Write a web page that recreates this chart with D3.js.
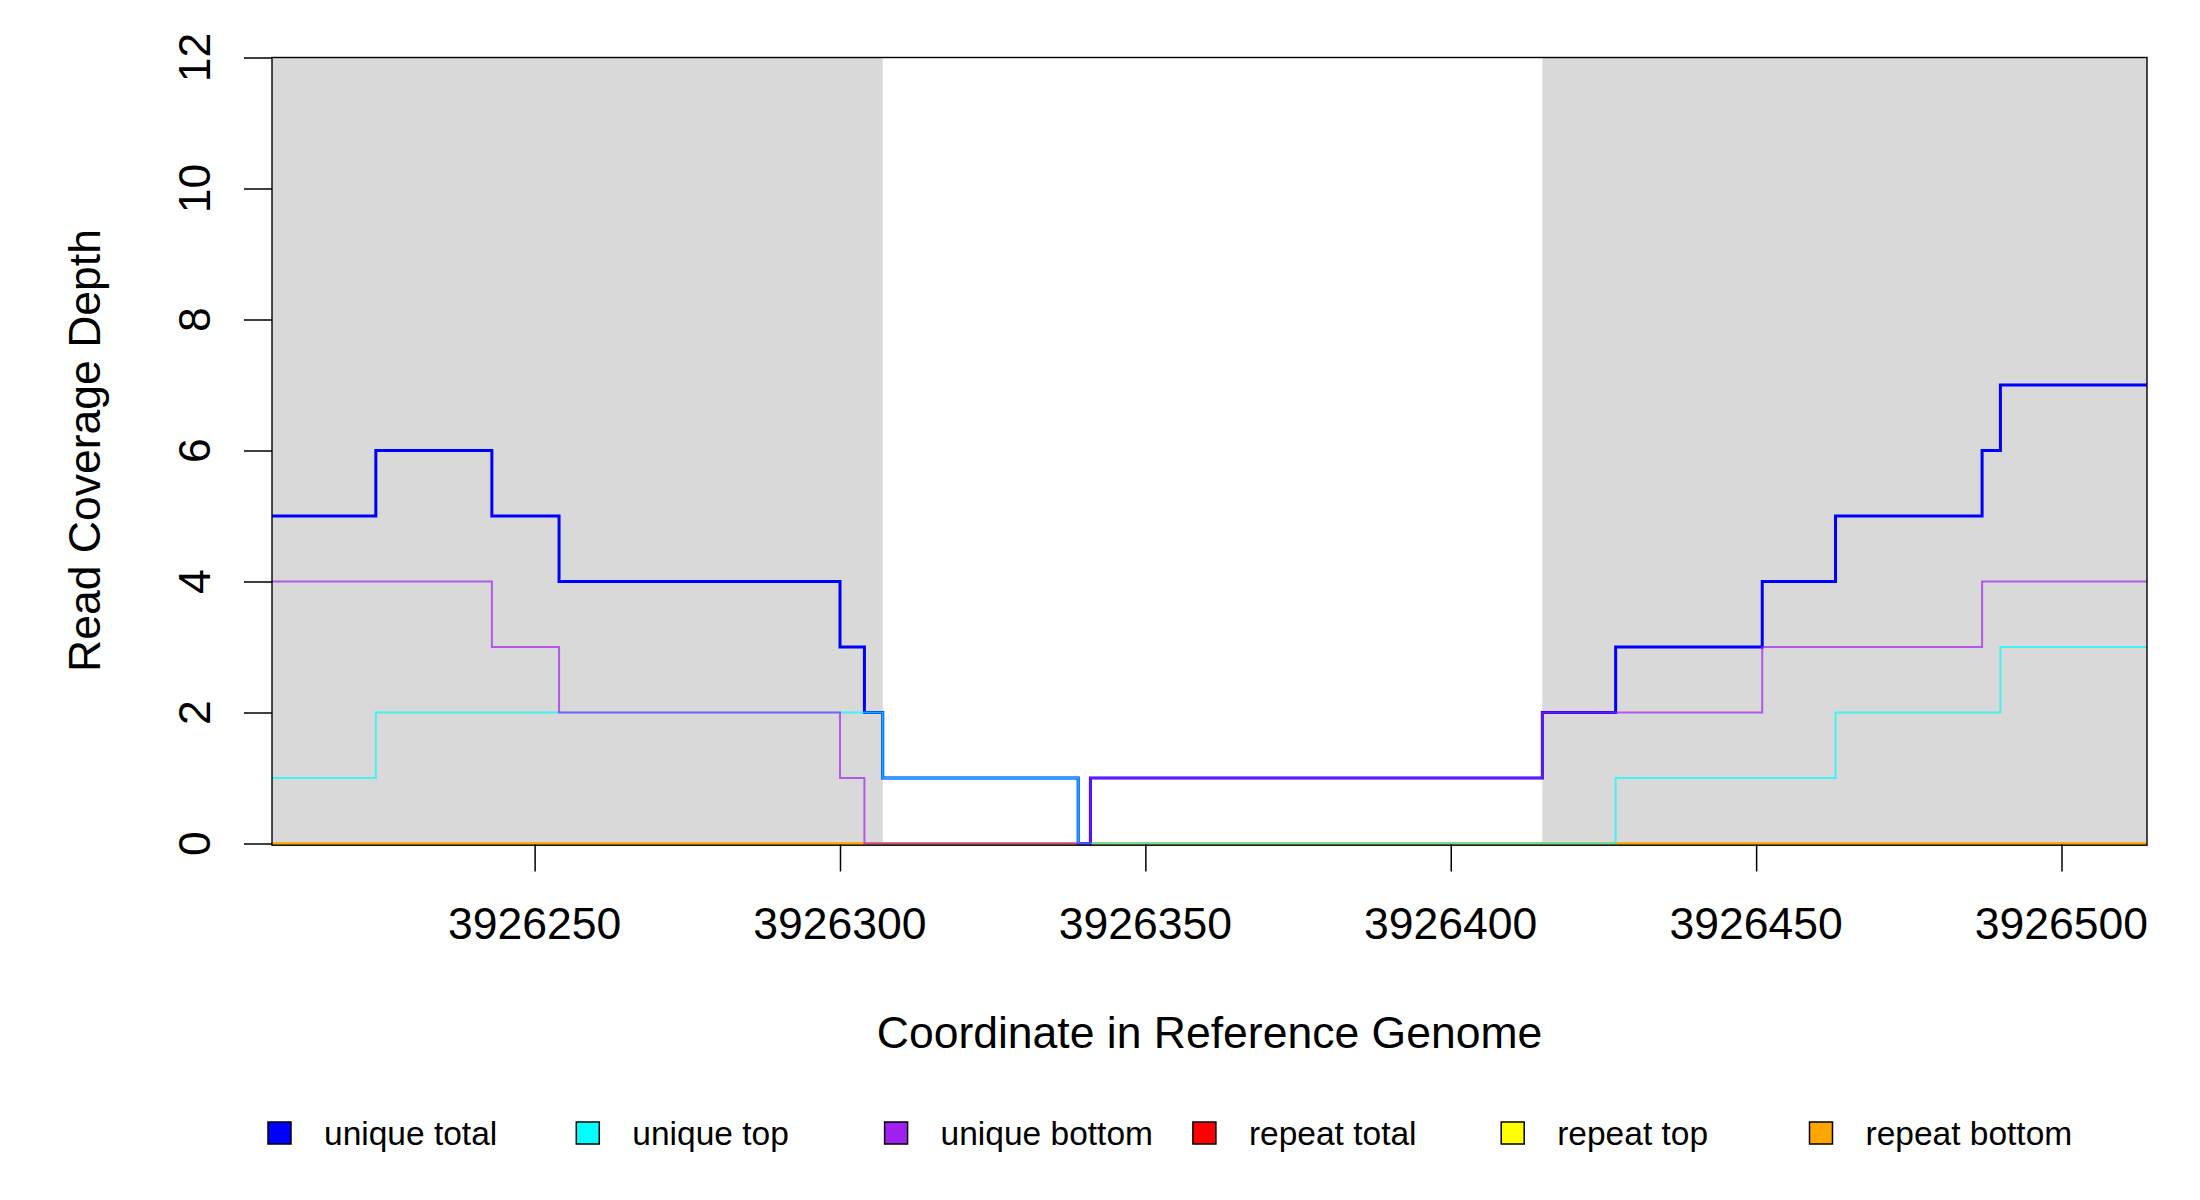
<!DOCTYPE html>
<html>
<head>
<meta charset="utf-8">
<script src="https://cdn.jsdelivr.net/npm/d3@7"></script>
<style>
  html, body { margin: 0; padding: 0; background: #fff; }
  svg text { font-family: "Liberation Sans", Arial, Helvetica, sans-serif; fill: #000; }
</style>
</head>
<body>
<div id="chart"></div>
<script>
// ── data ─────────────────────────────────────────────────────
const xDomain = [3926207, 3926514];
const yDomain = [0, 12];
const xTicks = [3926250, 3926300, 3926350, 3926400, 3926450, 3926500];
const yTicks = [0, 2, 4, 6, 8, 10, 12];
const shadedRegions = [[3926207, 3926307], [3926415, 3926514]];

const seriesNames  = ['unique total', 'unique top', 'unique bottom', 'repeat total', 'repeat top', 'repeat bottom'];
const seriesColors = ['#0000FF', '#00FFFF', '#A020F0', '#FF0000', '#FFFF00', '#FFA500'];

// step start positions + depth (last point closes the step)
const uniqueTotalPos   = [3926207, 3926224, 3926243, 3926254, 3926300, 3926304, 3926307, 3926339, 3926341, 3926415, 3926427, 3926451, 3926463, 3926487, 3926490, 3926514];
const uniqueTotalDepth = [5, 6, 5, 4, 3, 2, 1, 0, 1, 2, 3, 4, 5, 6, 7, 7];

const uniqueTopPos   = [3926207, 3926224, 3926307, 3926339, 3926427, 3926463, 3926490, 3926514];
const uniqueTopDepth = [1, 2, 1, 0, 1, 2, 3, 3];

const uniqueBottomPos   = [3926207, 3926243, 3926254, 3926300, 3926304, 3926341, 3926415, 3926451, 3926487, 3926514];
const uniqueBottomDepth = [4, 3, 2, 1, 0, 1, 2, 3, 4, 4];

const repeatTotalPos    = [3926207, 3926514];
const repeatTotalDepth  = [0, 0];
const repeatTopPos      = [3926207, 3926514];
const repeatTopDepth    = [0, 0];
const repeatBottomPos   = [3926207, 3926514];
const repeatBottomDepth = [0, 0];

function toPoints(pos, depth) {
  return pos.map((p, i) => ({ x: p, y: depth[i] }));
}

function renderCoveragePlot() {
  const W = 2200, H = 1200;
  const plot = { left: 272, right: 2147, top: 57.5, bottom: 843.5 };

  const svg = d3.select('#chart')
    .append('svg')
      .attr('width', W)
      .attr('height', H)
      .attr('viewBox', `0 0 ${W} ${H}`);

  const xScale = d3.scaleLinear().domain(xDomain).range([plot.left, plot.right]);
  const yScale = d3.scaleLinear().domain(yDomain).range([plot.bottom, plot.top]);

  //─── shaded regions ─────────────────────────
  svg.append('g')
    .selectAll('rect')
    .data(shadedRegions)
    .join('rect')
      .attr('x', d => xScale(d[0]))
      .attr('width', d => xScale(d[1]) - xScale(d[0]))
      .attr('y', yScale(yDomain[1]))
      .attr('height', yScale(yDomain[0]) - yScale(yDomain[1]))
      .attr('fill', '#D9D9D9');

  //─── step lines ─────────────────────────────
  const line = d3.line()
    .x(d => xScale(d.x))
    .y(d => yScale(d.y))
    .curve(d3.curveStepAfter);

  // drawing order: repeats underneath, unique total, then translucent top/bottom
  const layers = [
    { pts: toPoints(repeatTotalPos, repeatTotalDepth),   col: seriesColors[3], w: 2, op: 1 },
    { pts: toPoints(repeatTopPos, repeatTopDepth),       col: seriesColors[4], w: 2, op: 1 },
    { pts: toPoints(repeatBottomPos, repeatBottomDepth), col: seriesColors[5], w: 2, op: 1 },
    { pts: toPoints(uniqueTotalPos, uniqueTotalDepth),   col: seriesColors[0], w: 3, op: 1 },
    { pts: toPoints(uniqueTopPos, uniqueTopDepth),       col: seriesColors[1], w: 2, op: 0.7 },
    { pts: toPoints(uniqueBottomPos, uniqueBottomDepth), col: seriesColors[2], w: 2, op: 0.7 },
  ];

  svg.append('g')
    .selectAll('path')
    .data(layers)
    .join('path')
      .attr('d', d => line(d.pts))
      .attr('fill', 'none')
      .attr('stroke', d => d.col)
      .attr('stroke-width', d => d.w)
      .attr('stroke-opacity', d => d.op)
      .attr('stroke-linejoin', 'miter')
      .attr('stroke-linecap', 'butt');

  //─── box ────────────────────────────────────
  svg.append('rect')
    .attr('x', plot.left)
    .attr('y', plot.top)
    .attr('width', plot.right - plot.left)
    .attr('height', plot.bottom - plot.top + 1.7)
    .attr('fill', 'none')
    .attr('stroke', '#000')
    .attr('stroke-width', 1.4);

  //─── axes ───────────────────────────────────
  const yAxis = svg.append('g')
    .attr('transform', `translate(${plot.left},0)`)
    .call(d3.axisLeft(yScale).tickValues(yTicks).tickSize(28).tickFormat(''));
  yAxis.select('.domain').remove();
  yAxis.selectAll('.tick line').attr('stroke', '#000').attr('stroke-width', 1.5);

  svg.append('g')
    .selectAll('text')
    .data(yTicks)
    .join('text')
      .attr('transform', d => `translate(210,${yScale(d)}) rotate(-90)`)
      .attr('text-anchor', 'middle')
      .attr('font-size', 44.5)
      .text(d => d);

  const xAxis = svg.append('g')
    .attr('transform', `translate(0,${plot.bottom + 1})`)
    .call(d3.axisBottom(xScale).tickValues(xTicks).tickSize(27).tickFormat(''));
  xAxis.select('.domain').remove();
  xAxis.selectAll('.tick line').attr('stroke', '#000').attr('stroke-width', 1.5);

  svg.append('g')
    .selectAll('text')
    .data(xTicks)
    .join('text')
      .attr('x', d => xScale(d))
      .attr('y', 939)
      .attr('text-anchor', 'middle')
      .attr('font-size', 44.5)
      .text(d => d);

  //─── axis titles ────────────────────────────
  svg.append('text')
    .attr('x', (plot.left + plot.right) / 2)
    .attr('y', 1048)
    .attr('text-anchor', 'middle')
    .attr('font-size', 44.5)
    .text('Coordinate in Reference Genome');

  svg.append('text')
    .attr('transform', `translate(100,${(plot.top + plot.bottom) / 2}) rotate(-90)`)
    .attr('text-anchor', 'middle')
    .attr('font-size', 44.5)
    .text('Read Coverage Depth');

  //─── legend ─────────────────────────────────
  const legendX = d3.scaleBand()
    .domain(seriesNames)
    .range([268, 268 + 308.3 * seriesNames.length]);

  const items = svg.append('g')
    .selectAll('g')
    .data(seriesNames)
    .join('g')
      .attr('transform', d => `translate(${legendX(d)},0)`);

  items.append('rect')
    .attr('x', 0)
    .attr('y', 1122)
    .attr('width', 23)
    .attr('height', 22)
    .attr('fill', (d, i) => seriesColors[i])
    .attr('stroke', '#000')
    .attr('stroke-width', 1.5);

  items.append('text')
    .attr('x', 56)
    .attr('y', 1145)
    .attr('font-size', 33.5)
    .text(d => d);
}

renderCoveragePlot();
</script>
</body>
</html>
